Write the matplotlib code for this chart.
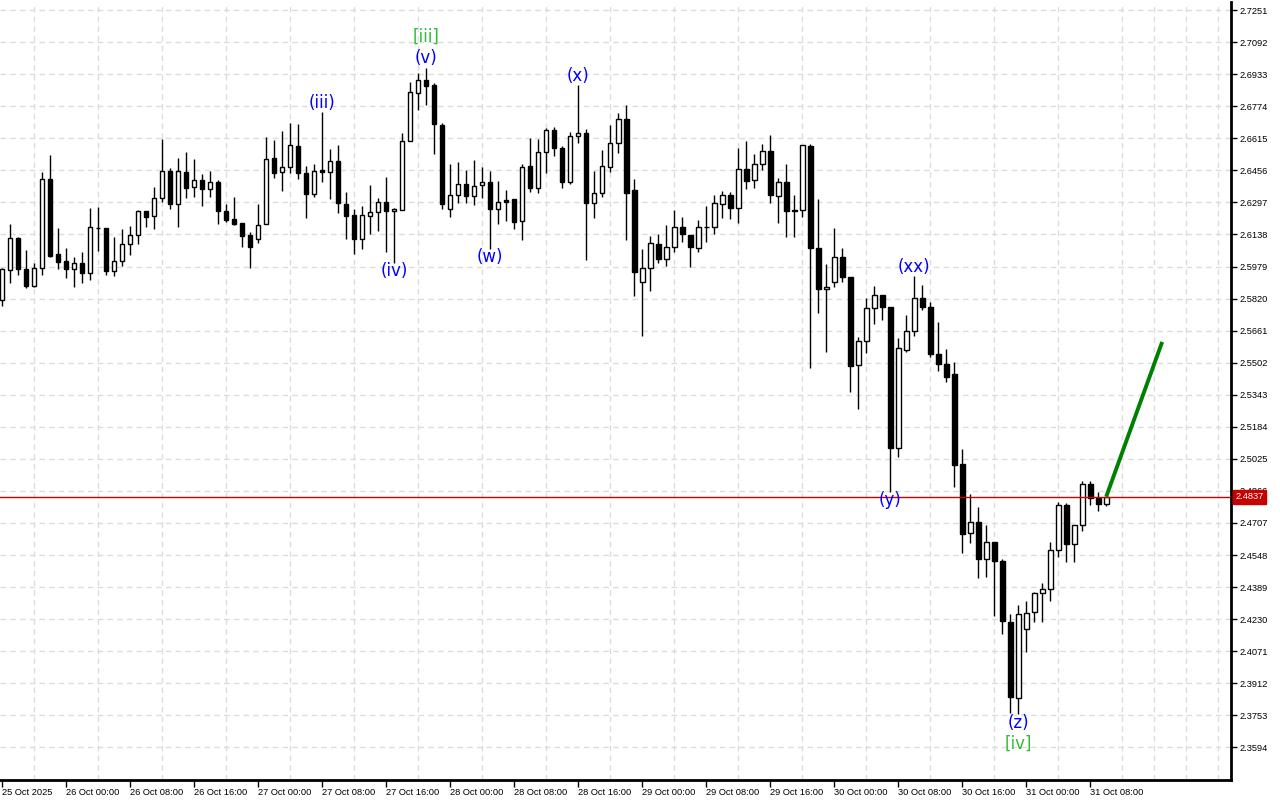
import matplotlib
matplotlib.use("Agg")
import matplotlib.pyplot as plt
import matplotlib.transforms as mtransforms

# ---------------- data (hourly candles, 25 Oct 16:00 -> 31 Oct 10:00) ----------------
opens = [2.5813, 2.5962, 2.6121, 2.5967, 2.5882, 2.5972, 2.6413, 2.6041, 2.6006, 2.5967,
         2.5997, 2.5947, 2.6170, 2.6170, 2.5957, 2.6006, 2.6091, 2.6135, 2.6254, 2.6230,
         2.6319, 2.6453, 2.6289, 2.6448, 2.6373, 2.6408, 2.6364, 2.6398, 2.6254, 2.6215,
         2.6195, 2.6135, 2.6116, 2.6190, 2.6517, 2.6448, 2.6473, 2.6577, 2.6443, 2.6339,
         2.6458, 2.6448, 2.6502, 2.6289, 2.6235, 2.6116, 2.6230, 2.6249, 2.6299, 2.6254,
         2.6259, 2.6602, 2.6840, 2.6904, 2.6879, 2.6681, 2.6264, 2.6334, 2.6388, 2.6329,
         2.6383, 2.6398, 2.6264, 2.6309, 2.6314, 2.6205, 2.6478, 2.6369, 2.6547, 2.6656,
         2.6567, 2.6398, 2.6626, 2.6641, 2.6294, 2.6344, 2.6473, 2.6592, 2.6711, 2.6359,
         2.5902, 2.5972, 2.6091, 2.6016, 2.6076, 2.6175, 2.6135, 2.6071, 2.6175, 2.6175,
         2.6289, 2.6334, 2.6269, 2.6463, 2.6408, 2.6488, 2.6552, 2.6329, 2.6398, 2.6259,
         2.6259, 2.6577, 2.6071, 2.5868, 2.5902, 2.6026, 2.5927, 2.5491, 2.5610, 2.5773,
         2.5838, 2.5778, 2.5079, 2.5565, 2.5659, 2.5823, 2.5778, 2.5545, 2.5495, 2.5446,
         2.5000, 2.4657, 2.4712, 2.4528, 2.4613, 2.4518, 2.4216, 2.3839, 2.4181, 2.4265,
         2.4360, 2.4380, 2.4573, 2.4796, 2.4603, 2.4697, 2.4900, 2.4831, 2.4801]
highs = [2.5972, 2.6190, 2.6125, 2.6061, 2.5997, 2.6448, 2.6532, 2.6170, 2.6071, 2.6026,
         2.6051, 2.6269, 2.6274, 2.6172, 2.6125, 2.6165, 2.6180, 2.6259, 2.6256, 2.6373,
         2.6612, 2.6468, 2.6517, 2.6547, 2.6512, 2.6438, 2.6453, 2.6408, 2.6289, 2.6324,
         2.6195, 2.6150, 2.6289, 2.6621, 2.6607, 2.6651, 2.6691, 2.6686, 2.6478, 2.6488,
         2.6745, 2.6562, 2.6582, 2.6349, 2.6264, 2.6279, 2.6383, 2.6319, 2.6423, 2.6269,
         2.6641, 2.6894, 2.6939, 2.6964, 2.6889, 2.6691, 2.6488, 2.6497, 2.6458, 2.6507,
         2.6473, 2.6453, 2.6403, 2.6359, 2.6314, 2.6488, 2.6616, 2.6612, 2.6666, 2.6671,
         2.6577, 2.6646, 2.6879, 2.6661, 2.6453, 2.6557, 2.6681, 2.6740, 2.6780, 2.6413,
         2.6066, 2.6130, 2.6140, 2.6185, 2.6259, 2.6225, 2.6135, 2.6210, 2.6279, 2.6334,
         2.6354, 2.6349, 2.6567, 2.6602, 2.6537, 2.6587, 2.6631, 2.6418, 2.6488, 2.6334,
         2.6582, 2.6587, 2.6314, 2.5992, 2.6170, 2.6071, 2.5927, 2.5630, 2.5823, 2.5882,
         2.5838, 2.5778, 2.5625, 2.5739, 2.5932, 2.5887, 2.5803, 2.5704, 2.5570, 2.5505,
         2.5074, 2.4851, 2.4786, 2.4697, 2.4613, 2.4528, 2.4256, 2.4300, 2.4320, 2.4365,
         2.4409, 2.4613, 2.4811, 2.4806, 2.4697, 2.4915, 2.4915, 2.4861, 2.4837]
lows = [2.5783, 2.5897, 2.5937, 2.5873, 2.5877, 2.5937, 2.6026, 2.5967, 2.5922, 2.5877,
        2.5897, 2.5912, 2.6056, 2.5937, 2.5932, 2.5982, 2.6036, 2.6091, 2.6175, 2.6165,
        2.6299, 2.6264, 2.6175, 2.6319, 2.6324, 2.6279, 2.6324, 2.6190, 2.6200, 2.6185,
        2.6076, 2.5972, 2.6096, 2.6190, 2.6418, 2.6354, 2.6443, 2.6413, 2.6220, 2.6324,
        2.6398, 2.6314, 2.6244, 2.6116, 2.6041, 2.6066, 2.6140, 2.6155, 2.6051, 2.5997,
        2.6259, 2.6602, 2.6755, 2.6780, 2.6537, 2.6264, 2.6225, 2.6294, 2.6294, 2.6284,
        2.6319, 2.6066, 2.6190, 2.6205, 2.6165, 2.6111, 2.6349, 2.6344, 2.6443, 2.6527,
        2.6369, 2.6388, 2.6592, 2.6011, 2.6220, 2.6324, 2.6448, 2.6542, 2.6111, 2.5833,
        2.5634, 2.5858, 2.5997, 2.5982, 2.6051, 2.6101, 2.5977, 2.6051, 2.6101, 2.6140,
        2.6220, 2.6215, 2.6195, 2.6364, 2.6369, 2.6458, 2.6294, 2.6195, 2.6125, 2.6125,
        2.6225, 2.5476, 2.5749, 2.5555, 2.5877, 2.5902, 2.5357, 2.5272, 2.5550, 2.5694,
        2.5714, 2.4861, 2.5034, 2.5555, 2.5634, 2.5763, 2.5530, 2.5461, 2.5406, 2.4885,
        2.4558, 2.4608, 2.4434, 2.4439, 2.4246, 2.4156, 2.3765, 2.3760, 2.4067, 2.4216,
        2.4216, 2.4320, 2.4538, 2.4513, 2.4513, 2.4667, 2.4796, 2.4766, 2.4791]
closes = [2.5967, 2.6121, 2.5967, 2.5882, 2.5972, 2.6413, 2.6031, 2.6001, 2.5967, 2.5997,
          2.5947, 2.6175, 2.6170, 2.5957, 2.6006, 2.6091, 2.6135, 2.6254, 2.6225, 2.6319,
          2.6453, 2.6289, 2.6453, 2.6369, 2.6408, 2.6364, 2.6398, 2.6254, 2.6210, 2.6190,
          2.6130, 2.6076, 2.6185, 2.6512, 2.6443, 2.6473, 2.6582, 2.6443, 2.6339, 2.6453,
          2.6448, 2.6502, 2.6294, 2.6230, 2.6116, 2.6235, 2.6249, 2.6299, 2.6254, 2.6264,
          2.6602, 2.6845, 2.6904, 2.6874, 2.6686, 2.6289, 2.6334, 2.6388, 2.6329, 2.6378,
          2.6398, 2.6264, 2.6299, 2.6299, 2.6200, 2.6473, 2.6369, 2.6547, 2.6656, 2.6567,
          2.6398, 2.6626, 2.6641, 2.6294, 2.6344, 2.6478, 2.6592, 2.6711, 2.6344, 2.5952,
          2.5972, 2.6096, 2.6016, 2.6076, 2.6175, 2.6140, 2.6076, 2.6175, 2.6175, 2.6294,
          2.6334, 2.6269, 2.6463, 2.6403, 2.6488, 2.6552, 2.6334, 2.6398, 2.6254, 2.6254,
          2.6582, 2.6071, 2.5868, 2.5877, 2.6026, 2.5927, 2.5486, 2.5610, 2.5773, 2.5838,
          2.5778, 2.5079, 2.5575, 2.5659, 2.5823, 2.5778, 2.5545, 2.5495, 2.5431, 2.4995,
          2.4652, 2.4712, 2.4528, 2.4613, 2.4518, 2.4221, 2.3844, 2.4256, 2.4261, 2.4360,
          2.4380, 2.4573, 2.4796, 2.4603, 2.4697, 2.4900, 2.4831, 2.4801, 2.4837]

time_labels = ["25 Oct 2025", "26 Oct 00:00", "26 Oct 08:00", "26 Oct 16:00",
               "27 Oct 00:00", "27 Oct 08:00", "27 Oct 16:00", "28 Oct 00:00",
               "28 Oct 08:00", "28 Oct 16:00", "29 Oct 00:00", "29 Oct 08:00",
               "29 Oct 16:00", "30 Oct 00:00", "30 Oct 08:00", "30 Oct 16:00",
               "31 Oct 00:00", "31 Oct 08:00"]
time_label_idx = list(range(0, 8 * len(time_labels), 8))

price_ticks = [2.7251, 2.7092, 2.6933, 2.6774, 2.6615, 2.6456, 2.6297, 2.6138,
               2.5979, 2.5820, 2.5661, 2.5502, 2.5343, 2.5184, 2.5025, 2.4866,
               2.4707, 2.4548, 2.4389, 2.4230, 2.4071, 2.3912, 2.3753, 2.3594]

current_price = 2.4837

projection_idx = [138, 145]
projection_price = [2.4837, 2.5605]

wave_labels = ["[iii]", "(v)", "(iii)", "(iv)", "(w)", "(x)", "(xx)", "(y)", "(z)", "[iv]"]
wave_idx = [53, 53, 40, 49, 61, 72, 114, 111, 127, 127]
wave_price = [2.7117, 2.7013, 2.6790, 2.5957, 2.6026, 2.6924, 2.5977, 2.4821, 2.3715, 2.3611]
wave_color = ["#33BB33", "#0000FF", "#0000FF", "#0000FF", "#0000FF", "#0000FF",
              "#0000FF", "#0000FF", "#0000FF", "#33BB33"]

# ---------------- figure ----------------
fig = plt.figure(figsize=(12.8, 8), dpi=100)
fig.patch.set_facecolor("white")
ax = fig.add_axes([0.0, 20 / 800, 1231 / 1280, 778 / 800])
ax.set_facecolor("white")

n = len(opens)
xs = list(range(n))

# wicks
ax.vlines(xs, lows, highs, color="black", linewidth=1, zorder=2)
# bodies
for i in xs:
    o, c = opens[i], closes[i]
    bottom = min(o, c)
    height = abs(c - o)
    face = "white" if c >= o else "black"
    ax.bar(i, height, bottom=bottom, width=0.6, facecolor=face,
           edgecolor="black", linewidth=1, zorder=3)

# current price line
ax.axhline(current_price, color="#D00000", linewidth=1, zorder=4)

# projection
ax.plot(projection_idx, projection_price, color="#008000", linewidth=2.8,
        solid_capstyle="butt", zorder=5)

# wave labels
for lab, i, p, col in zip(wave_labels, wave_idx, wave_price, wave_color):
    ax.text(i, p, lab, color=col, fontsize=12, ha="center", va="center",
            family="DejaVu Sans", zorder=6)

# axes limits
ax.set_xlim(-0.25, 153.6)
ax.set_ylim(2.3432, 2.7291)

# grid
grid_kw = dict(color="#dcdcdc", linestyle=(0, (4, 3)), linewidth=1)
ax.set_yticks(price_ticks)
ax.set_yticklabels([f"{v:.4f}" for v in price_ticks])
ax.set_xticks(time_label_idx)
ax.set_xticklabels(time_labels)
ax.set_xticks(list(range(0, 154, 4)), minor=True)
ax.grid(True, which="major", axis="y", **grid_kw)
ax.grid(True, which="minor", axis="x", **grid_kw)
ax.set_axisbelow(True)

ax.yaxis.tick_right()
ax.tick_params(axis="y", which="major", direction="out", length=4, width=1,
               pad=2, labelsize=6.7, colors="black")
ax.tick_params(axis="x", which="major", direction="out", length=5, width=1,
               pad=1, labelsize=6.7)
ax.tick_params(axis="x", which="minor", length=0)
for lbl in ax.get_yticklabels():
    lbl.set_family("Liberation Sans")
    lbl.set_horizontalalignment("left")
for lbl in ax.get_xticklabels():
    lbl.set_family("Liberation Sans")
    lbl.set_horizontalalignment("left")

for side in ["top", "left"]:
    ax.spines[side].set_visible(False)
ax.spines["right"].set_linewidth(2)
ax.spines["bottom"].set_linewidth(2)

# current price tag on the axis
trans = mtransforms.blended_transform_factory(ax.transAxes, ax.transData)
ax.text(1.0035, current_price, f"{current_price:.4f}", transform=trans,
        color="white", fontsize=6.7, family="Liberation Sans", ha="left", va="center",
        bbox=dict(boxstyle="square,pad=0.25", facecolor="#C80000", edgecolor="#C80000"),
        zorder=10, clip_on=False)

fig.savefig("out.png", dpi=100, facecolor="white")
